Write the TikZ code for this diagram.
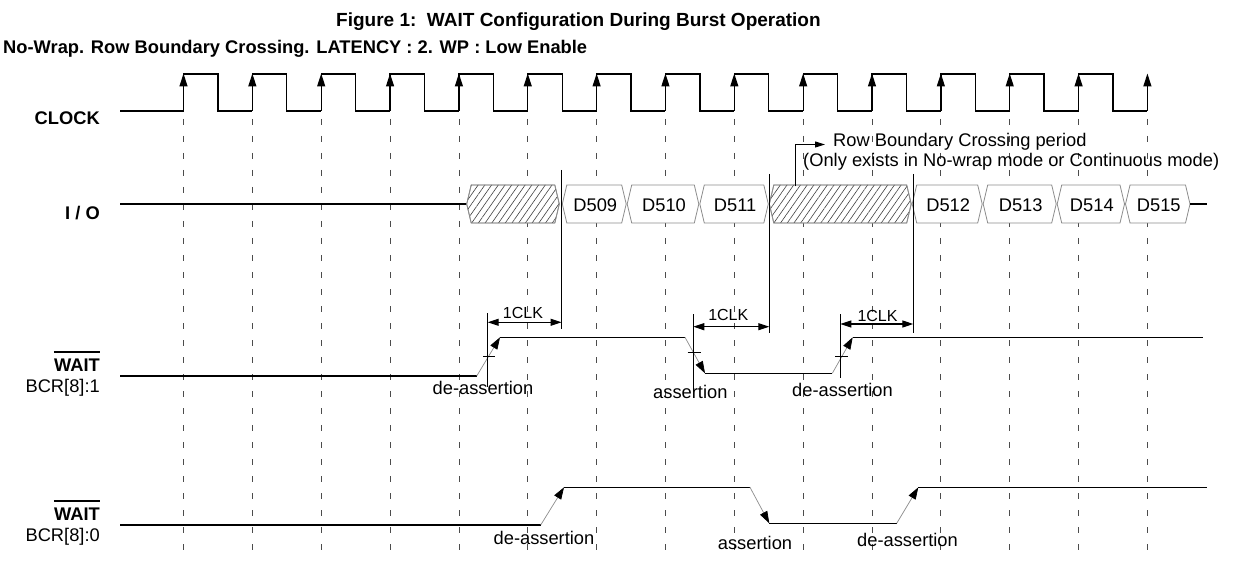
\documentclass[tikz,border=0pt]{standalone}
\usepackage{fontspec}
\setmainfont{Liberation Sans}
\usetikzlibrary{arrows.meta,patterns.meta}
\begin{document}
\begin{tikzpicture}[x=1pt,y=-1pt,
  every node/.style={inner sep=0pt, font=\fontsize{18.3}{20}\selectfont},
  lbl/.style={font=\fontsize{18.3}{20}\selectfont\bfseries, anchor=east},
  rlbl/.style={font=\fontsize{18.3}{20}\selectfont, anchor=east},
  sig/.style={line width=1.3pt, draw=black},
  gridline/.style={line width=0.8pt, draw=black!70, dash pattern=on 6pt off 11pt},
  hexb/.style={draw=black!45, line width=0.8pt, fill=white},
  hatchfill/.style={pattern={Lines[angle=55,distance=5.5pt,line width=0.6pt]}, pattern color=black!75},
  clkarrow/.style={-{Triangle[length=13pt,width=8pt]}, line width=1.3pt},
  dimarrow/.style={{Triangle[length=11pt,width=7pt]}-{Triangle[length=11pt,width=7pt]}, line width=1.1pt},
  slant/.style={draw=black!45, line width=0.7pt, -{Triangle[length=12pt,width=8pt,color=black]}},
  tickl/.style={line width=1.1pt, draw=black},
  vline/.style={line width=1.1pt, draw=black},
  clk/.style={font=\fontsize{16}{18}\selectfont}
]
\useasboundingbox (0,0) rectangle (1233,561);

% titles
\node[anchor=west, font=\fontsize{19}{22}\selectfont\bfseries] (title) at (336,22) {Figure 1:\ \ WAIT Configuration During Burst Operation};
\node[anchor=west, font=\fontsize{18.3}{20}\selectfont\bfseries] (subtitle) at (3,49) {No-Wrap. Row Boundary Crossing. LATENCY : 2. WP : Low Enable};

% left labels
\node[lbl] (lclk) at (100,118) {CLOCK};
\node[lbl] (lio) at (100,213) {I / O};
\node[lbl] (lw1) at (100,365) {WAIT};
\draw[line width=1.8pt] ([yshift=6.5pt]lw1.north west) -- ([yshift=6.5pt]lw1.north east);
\node[rlbl] (lb1) at (100,388) {BCR[8]:1};
\node[lbl] (lw0) at (100,514) {WAIT};
\draw[line width=1.8pt] ([yshift=6.5pt]lw0.north west) -- ([yshift=6.5pt]lw0.north east);
\node[rlbl] (lb0) at (100,537) {BCR[8]:0};

% dashed clock grid
\foreach \i in {0,...,14} {
  \pgfmathsetmacro\xx{183.5+68.85*\i}
  \draw[gridline] (\xx,119) -- (\xx,552);
}

% clock
\draw[sig] (120,111) -- (183.5,111);
\foreach \i in {0,...,13} {
  \pgfmathsetmacro\xa{183.5+68.85*\i}
  \pgfmathsetmacro\xb{\xa+34.4}
  \pgfmathsetmacro\xc{\xa+68.85}
  \draw[sig] (\xa,111) -- (\xa,74) -- (\xb,74) -- (\xb,111) -- (\xc,111);
}
\foreach \i in {0,...,14} {
  \pgfmathsetmacro\xx{183.5+68.85*\i}
  \draw[clkarrow] (\xx,111) -- (\xx,73.5);
}

% I/O
\draw[sig] (120,204) -- (467,204);
\foreach \a/\b in {466.7/559.3, 769.3/911.2} {
  \filldraw[hexb] (\a,204) -- ({\a+4.5},185) -- ({\b-4.5},185) -- (\b,204) -- ({\b-4.5},223) -- ({\a+4.5},223) -- cycle;
  \fill[hatchfill] (\a,204) -- ({\a+4.5},185) -- ({\b-4.5},185) -- (\b,204) -- ({\b-4.5},223) -- ({\a+4.5},223) -- cycle;
  \draw[draw=black!45, line width=0.8pt] (\a,204) -- ({\a+4.5},185) -- ({\b-4.5},185) -- (\b,204) -- ({\b-4.5},223) -- ({\a+4.5},223) -- cycle;
}
\foreach \a/\b/\t in {562.3/626.2/D509, 627.2/698.8/D510, 699.8/768.3/D511, 912.2/982.2/D512, 983.2/1056.2/D513, 1057.2/1124.5/D514, 1125.5/1190/D515} {
  \filldraw[hexb] (\a,204) -- ({\a+4.5},185) -- ({\b-4.5},185) -- (\b,204) -- ({\b-4.5},223) -- ({\a+4.5},223) -- cycle;
  \node (n\t) at ({(\a+\b)/2+1},205) {\t};
}
\draw[sig] (1190,204) -- (1207,204);

% boundary annotation
\coordinate (rbtop) at (795.5,144.5);
\coordinate (rbbot) at (795.5,186.5);
\coordinate (rbtip) at (825,144.5);
\draw[line width=1pt, -{Triangle[length=10pt,width=6pt]}] (rbbot) -- (rbtop) -- (rbtip);
\node[anchor=west] (rbt1) at (833,142) {Row Boundary Crossing period};
\node[anchor=west] (rbt2) at (803,162) {(Only exists in No-wrap mode or Continuous mode)};

% vertical reference lines
\draw[vline] (561.5,170) -- (561.5,329);
\draw[vline] (769.3,174) -- (769.3,333);
\draw[vline] (913.3,174) -- (913.3,333);

% WAIT BCR[8]:1
\draw[sig] (120,376) -- (476.7,376);
\draw[slant] (476.7,376) -- (500,337.3);
\draw[sig] (500,337.3) -- (685,337.3);
\draw[slant] (685,337.3) -- (705,373.3);
\draw[sig] (705,373.3) -- (832.3,373.3);
\draw[slant] (832.3,373.3) -- (852.7,337.3);
\draw[sig] (852.7,337.3) -- (1203,337.3);

\draw[tickl] (487.7,313.3) -- (487.7,386.7);
\draw[tickl] (483,356.7) -- (495,356.7);
\draw[tickl] (693.3,314) -- (693.3,389);
\draw[tickl] (687.7,352.3) -- (701,352.3);
\draw[tickl] (840.3,314) -- (840.3,378.3);
\draw[tickl] (835,356.7) -- (848.3,356.7);

\draw[dimarrow] (487.7,322.3) -- (561.5,322.3);
\draw[dimarrow] (693.3,326.7) -- (769.3,326.7);
\draw[dimarrow] (840.3,324) -- (913.3,324);
\node[clk] (c1) at (523,312.7) {1CLK};
\node[clk] (c2) at (728.3,315) {1CLK};
\node[clk] (c3) at (877.5,316) {1CLK};

\node (a1) at (483,388.3) {de-assertion};
\node (a2) at (690.3,391.7) {assertion};
\node (a3) at (842.5,390) {de-assertion};

% WAIT BCR[8]:0
\draw[sig] (120,525) -- (540.7,525);
\draw[slant] (540.7,525) -- (564,487.3);
\draw[sig] (564,487.3) -- (750,487.3);
\draw[slant] (750,487.3) -- (769.3,523.3);
\draw[sig] (769.3,523.3) -- (896.7,523.3);
\draw[slant] (896.7,523.3) -- (918.3,487.3);
\draw[sig] (918.3,487.3) -- (1206.7,487.3);

\node (b1) at (544,538.3) {de-assertion};
\node (b2) at (755,542.7) {assertion};
\node (b3) at (907.5,540) {de-assertion};
\end{tikzpicture}
\end{document}
